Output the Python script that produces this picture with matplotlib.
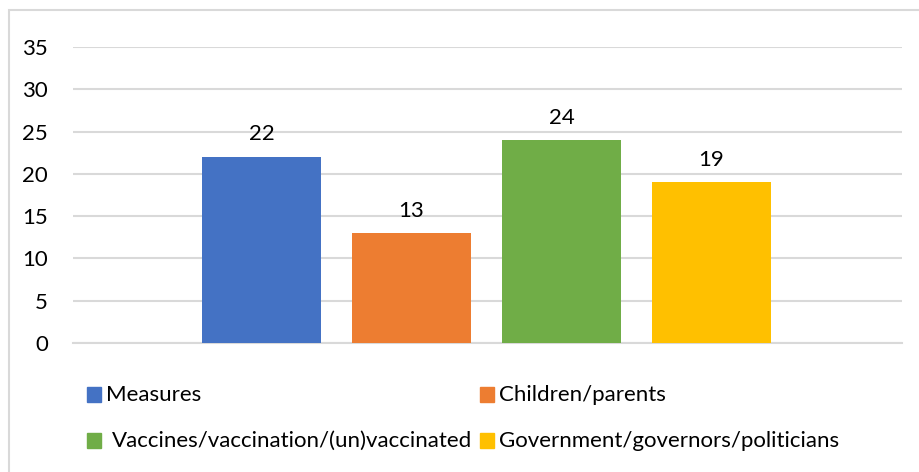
import matplotlib.pyplot as plt
from matplotlib.patches import Rectangle

plt.rcParams['font.family'] = ['Lato', 'DejaVu Sans']

# Data
series = ['Measures', 'Children/parents',
          'Vaccines/vaccination/(un)vaccinated', 'Government/governors/politicians']
values = [22, 13, 24, 19]
colors = ['#4472c4', '#ed7d31', '#70ad47', '#ffc000']
yticks = [0, 5, 10, 15, 20, 25, 30, 35]

W, H = 920, 472
fig = plt.figure(figsize=(W / 100, H / 100), dpi=100)

# Chart area border (extends beyond the right/bottom edge like the source)
fig.patches.append(Rectangle((9 / W, -0.1), 1.2, 1 - 10 / H + 0.1,
                             transform=fig.transFigure, fill=False,
                             edgecolor='#d9d9d9', linewidth=1.5))

ax = fig.add_axes([73 / W, 1 - 343 / H, (902 - 73) / W, (343 - 47) / H])

x = list(range(len(values)))
ax.bar(x, values, width=0.793, color=colors, zorder=3)
for xi, v in zip(x, values):
    ax.annotate(str(v), (xi, v), xytext=(0, 9), textcoords='offset points',
                ha='center', va='bottom', fontsize=16, color='#000000')

ax.set_xlim(-1.257, 4.27)
ax.set_ylim(0, 35)
ax.set_yticks(yticks)
ax.set_xticks([])
ax.tick_params(axis='y', length=0, pad=18, labelsize=16, labelcolor='#000000')
ax.grid(axis='y', color='#d9d9d9', linewidth=1.5, zorder=0)
for side in ['top', 'right', 'left']:
    ax.spines[side].set_visible(False)
ax.spines['bottom'].set_color('#d9d9d9')
ax.spines['bottom'].set_linewidth(1.5)

# Legend drawn by hand to keep the two-row layout
leg_items = [
    (87, 387, 106, series[0], colors[0]),
    (480, 387, 499, series[1], colors[1]),
    (87, 433, 112, series[2], colors[2]),
    (480, 433, 499, series[3], colors[3]),
]
for sx, sy, tx, label, c in leg_items:
    fig.patches.append(Rectangle((sx / W, 1 - (sy + 15) / H), 14 / W, 15 / H,
                                 transform=fig.transFigure, color=c))
    fig.text(tx / W, 1 - (sy + 8) / H, label, fontsize=16,
             ha='left', va='center', color='#000000')

fig.savefig('out.png', dpi=100)
